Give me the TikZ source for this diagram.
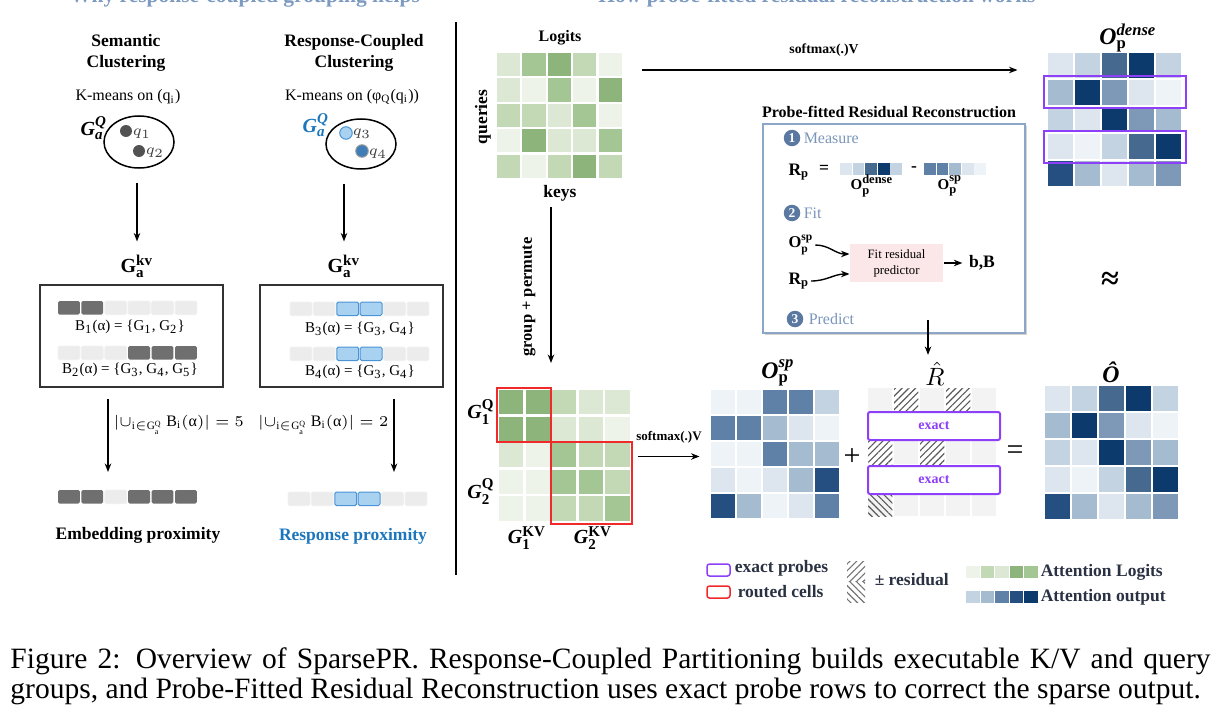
\documentclass[tikz,border=0pt]{standalone}
\usepackage{amsmath}
\usepackage{fontspec}
\setmainfont{Liberation Serif}
\usetikzlibrary{arrows.meta,shapes.geometric,patterns.meta,shadows}

% heat map shades
\definecolor{gA}{HTML}{EEF3EA}
\definecolor{gB}{HTML}{DCE8D4}
\definecolor{gC}{HTML}{C3D9B6}
\definecolor{gD}{HTML}{A4C694}
\definecolor{gE}{HTML}{8DB47A}
\definecolor{bA}{HTML}{EEF3F8}
\definecolor{bB}{HTML}{DDE5EF}
\definecolor{bC}{HTML}{C4D3E1}
\definecolor{bD}{HTML}{A5BBD0}
\definecolor{bE}{HTML}{7D99B7}
\definecolor{bF}{HTML}{5F81A7}
\definecolor{bG}{HTML}{46698F}
\definecolor{bH}{HTML}{244F80}
\definecolor{bI}{HTML}{0D3A6D}
% other colours
\definecolor{cellgray}{HTML}{6F6F6F}
\definecolor{cellpale}{HTML}{ECECEC}
\definecolor{cellblue}{HTML}{A9D1F0}
\definecolor{edgeblue}{HTML}{4A93D6}
\definecolor{respblue}{HTML}{1B76BC}
\definecolor{probepurple}{HTML}{8E3FF8}
\definecolor{routedred}{HTML}{F02A2A}
\definecolor{stepblue}{HTML}{7A96BA}
\definecolor{stepdark}{HTML}{5A78A0}
\definecolor{frameblue}{HTML}{8CA6C8}
\definecolor{fitpink}{HTML}{FBE7E7}
\definecolor{legendink}{HTML}{2A3142}
\definecolor{headblue}{HTML}{7D9AC0}
\definecolor{rescell}{HTML}{F3F3F3}

\newcommand{\bfit}[1]{\text{\bfseries\itshape #1}}

\begin{document}
\begin{tikzpicture}[x=0.4pt,y=-0.4pt,>=Stealth,
  arr/.style={->,line width=0.55pt,>={Stealth[length=3.4pt,width=2.6pt]}},
  ttl/.style={font=\bfseries\fontsize{7}{8.4}\selectfont,align=center,inner sep=0.5pt},
  txt/.style={font=\fontsize{6.4}{7.5}\selectfont,inner sep=0.5pt},
  lbl/.style={font=\fontsize{8}{9}\selectfont,inner sep=0.5pt},
  small/.style={font=\bfseries\fontsize{5.5}{6.5}\selectfont,inner sep=0.5pt},
  big/.style={font=\fontsize{12}{12}\selectfont,inner sep=0.5pt},
  steptxt/.style={font=\fontsize{6.4}{7.5}\selectfont,text=stepblue,anchor=west,inner sep=0.5pt},
  stepnum/.style={circle,fill=stepdark,text=white,inner sep=0pt,minimum size=6.6pt,font=\bfseries\fontsize{5.4}{5.4}\selectfont},
  legend/.style={font=\bfseries\fontsize{7}{8}\selectfont,text=legendink,anchor=west,inner sep=0.5pt},
  frame/.style={draw=black!80,line width=0.6pt,minimum width=73.2pt,minimum height=40.8pt},
  probe/.style={draw=probepurple,line width=0.75pt},
  routed/.style={draw=routedred,line width=0.75pt},
  dkcell/.style={fill=cellgray},
  ltcell/.style={fill=cellpale,draw=black!6},
  bucell/.style={fill=cellblue,draw=edgeblue},
  hatch/.style={pattern={Lines[angle=#1,distance=1.9pt,line width=0.45pt]},pattern color=black!65},
  exact/.style={draw=probepurple,line width=0.8pt,fill=white,rounded corners=0.8pt,
    minimum width=52.8pt,minimum height=11.2pt,inner sep=0pt,text=probepurple,
    font=\bfseries\fontsize{5.6}{6}\selectfont},
  mat/.style={inner sep=0pt,minimum width=#1,minimum height=#1}
]
\useasboundingbox (0,0) rectangle (1219,726);

% panel headings, cut at the top edge
\node[font=\bfseries\fontsize{8.6}{10}\selectfont,text=headblue,anchor=base] (headL) at (245,3) {Why response-coupled grouping helps};
\node[font=\bfseries\fontsize{8.6}{10}\selectfont,text=headblue,anchor=base] (headR) at (817,3) {How probe-fitted residual reconstruction works};
\draw[line width=0.6pt] (456,22) -- (456,575);

% ---------- left panel ----------
\node[ttl] (semT) at (126,53) {Semantic\\Clustering};
\node[ttl] (rcT) at (354,53) {Response-Coupled\\Clustering};
\node[txt] (semK) at (128,97) {K-means on (q\textsubscript{i})};
\node[txt] (rcK) at (352,97) {K-means on (φ\textsubscript{Q}(q\textsubscript{i}))};

\node[draw,ellipse,line width=0.6pt,minimum width=28pt,minimum height=20.8pt] (semQ) at (139,142) {};
\node[draw,ellipse,line width=0.6pt,minimum width=28pt,minimum height=20pt] (rcQ) at (361,144) {};
\node[lbl] (semG) at (94,128) {$\bfit{G}_{\bfit{a}}^{\bfit{Q}}$};
\node[lbl,text=respblue] (rcG) at (316,125) {$\bfit{G}_{\bfit{a}}^{\bfit{Q}}$};
% query points
\fill[black!68] (126,131) circle (2.4pt);
\fill[black!68] (139,151) circle (2.4pt);
\filldraw[fill=cellblue,draw=edgeblue,line width=0.4pt] (346,133) circle (2.5pt);
\filldraw[fill=edgeblue!85!black,draw=black!40,line width=0.4pt] (362,151) circle (2.5pt);
\node[txt,anchor=west,text=black!75] (q1) at (131,134) {$q_1$};
\node[txt,anchor=west,text=black!75] (q2) at (144,153) {$q_2$};
\node[txt,anchor=west,text=black!75] (q3) at (351,134) {$q_3$};
\node[txt,anchor=west,text=black!75] (q4) at (367,154) {$q_4$};

\node[lbl] (gkvL) at (137,266) {$\mathbf{G}_{\mathbf{a}}^{\mathbf{kv}}$};
\node[lbl] (gkvR) at (344,266) {$\mathbf{G}_{\mathbf{a}}^{\mathbf{kv}}$};
\draw[arr,shorten <=5.6pt,shorten >=4.6pt] (gkvL.north |- semQ.south) -- (gkvL.north);
\draw[arr,shorten <=5.6pt,shorten >=4.6pt] (gkvR.north |- rcQ.south) -- (gkvR.north);

\node[frame] (bL) at (131.5,336) {};
\node[frame] (bR) at (351.5,336) {};
% block rows: bucket members and unions
\foreach \x/\y/\cols in {58/301/{dkcell,dkcell,ltcell,ltcell,ltcell,ltcell},
                         58/346/{ltcell,ltcell,ltcell,dkcell,dkcell,dkcell},
                         290/302/{ltcell,ltcell,bucell,bucell,ltcell,ltcell},
                         290/347/{ltcell,ltcell,bucell,bucell,ltcell,ltcell},
                         58/490/{dkcell,dkcell,ltcell,dkcell,dkcell,dkcell},
                         288/492/{ltcell,ltcell,bucell,bucell,ltcell,ltcell}}
  \foreach \s [count=\k] in \cols
    \path[\s,rounded corners=0.6pt,line width=0.4pt] ({\x+23.4*(\k-1)},\y) rectangle ++(21.8,13.5);
\node[txt,font=\fontsize{6}{7}\selectfont] (b1) at (130,327) {B\textsubscript{1}(α) = \{G\textsubscript{1}, G\textsubscript{2}\}};
\node[txt,font=\fontsize{6}{7}\selectfont] (b2) at (130,370) {B\textsubscript{2}(α) = \{G\textsubscript{3}, G\textsubscript{4}, G\textsubscript{5}\}};
\node[txt,font=\fontsize{6}{7}\selectfont] (b3) at (360,329) {B\textsubscript{3}(α) = \{G\textsubscript{3}, G\textsubscript{4}\}};
\node[txt,font=\fontsize{6}{7}\selectfont] (b4) at (360,372) {B\textsubscript{4}(α) = \{G\textsubscript{3}, G\textsubscript{4}\}};

\node[txt,anchor=west] (sumL) at (112,425) {$|{\cup}_{\mathrm{i}\in\mathrm{G}^{\mathrm{Q}}_{\mathrm{a}}}\,\mathrm{B}_{\mathrm{i}}(\text{α})| = 5$};
\node[txt,anchor=east] (sumR) at (390,425) {$|{\cup}_{\mathrm{i}\in\mathrm{G}^{\mathrm{Q}}_{\mathrm{a}}}\,\mathrm{B}_{\mathrm{i}}(\text{α})| = 2$};
\coordinate (tipL) at (108,472);
\coordinate (tipR) at (394,472);
\draw[arr,shorten <=4.4pt] (tipL |- bL.south) -- (tipL);
\draw[arr,shorten <=4.4pt] (tipR |- bR.south) -- (tipR);

\node[ttl] (embT) at (138,535) {Embedding proximity};
\node[ttl,text=respblue] (rpT) at (353,536) {Response proximity};

% ---------- right panel ----------
\node[mat=50.4pt] (logit) at (560,116) {};
\node[mat=54pt] (dense) at (1115.5,120) {};
\node[mat=52.8pt] (grp) at (565,456.5) {};
\node[mat=51.6pt] (osp) at (775.5,454) {};

% logits
\foreach \row [count=\r] in {{gB,gD,gE,gC,gA},{gB,gA,gD,gA,gE},{gC,gC,gB,gD,gA},{gA,gE,gB,gB,gD},{gC,gA,gC,gE,gC}}
  \foreach \c [count=\k] in \row
    \fill[\c] ({497+25.4*(\k-1)},{53+25.4*(\r-1)}) rectangle ++(23.2,23.2);
\node[ttl,font=\bfseries\fontsize{6.4}{7.5}\selectfont] (logitT) at (560,38) {Logits};
\node[ttl,rotate=90] (qry) at (483,117) {queries};
\node[ttl] (keyT) at (560,193) {keys};

\coordinate (gpA) at (551,207);
\draw[arr,shorten >=10.8pt] (gpA) -- (gpA |- grp.north);
\node[ttl,rotate=90,font=\bfseries\fontsize{6.6}{7.5}\selectfont] (gpT) at (529,297) {group + permute};

\coordinate (smA) at (642,70);
\draw[arr,shorten >=12pt] (smA) -- (smA -| dense.west);
\node[small] (smT) at (824,50) {softmax(.)V};

% dense output and the reconstruction (same values)
\foreach \mx/\my in {1048/53,1045/386}
  \foreach \row [count=\r] in {{bB,bC,bG,bI,bC},{bD,bI,bE,bB,bA},{bC,bB,bI,bE,bD},{bB,bA,bC,bG,bI},{bH,bD,bB,bD,bE}}
    \foreach \c [count=\k] in \row
      \fill[\c] ({\mx+27*(\k-1)},{\my+27*(\r-1)}) rectangle ++(25,25);
\node[lbl,font=\fontsize{9.5}{10}\selectfont] (denseT) at (1128,38) {$\bfit{O}_{\mathbf{p}}^{\bfit{dense}}$};
\draw[probe] (1044,76) rectangle (1186,108);
\draw[probe] (1044,131) rectangle (1186,163);
\node[big,font=\bfseries\fontsize{13}{13}\selectfont] (aprx) at (1110,281) {≈};

% probe-fitted residual reconstruction
\node[ttl,font=\bfseries\fontsize{6.4}{7.5}\selectfont] (probeT) at (889,112) {Probe-fitted Residual Reconstruction};
\node[draw=frameblue,fill=white,line width=0.6pt,minimum width=104.8pt,minimum height=83.6pt,
      drop shadow={shadow xshift=0.8pt,shadow yshift=-0.8pt,opacity=0.35}] (probe) at (894,228.5) {};
\node[stepnum] (n1) at (792,138) {1};
\node[steptxt] (s1) at (802,138) {Measure};
\node[stepnum] (n2) at (792,213) {2};
\node[steptxt] (s2) at (802,213) {Fit};
\node[stepnum] (n3) at (795,319) {3};
\node[steptxt] (s3) at (807,319) {Predict};

\node[font=\bfseries\fontsize{7}{8}\selectfont,inner sep=0.5pt] (rp1) at (799,172) {R\textsubscript{p}};
\node[font=\bfseries\fontsize{7}{8}\selectfont,inner sep=0.5pt] (eq1) at (824,169) {=};
\node[font=\bfseries\fontsize{7}{8}\selectfont,inner sep=0.5pt] (minus) at (914,169) {-};
\foreach \mx/\cols in {840/{bB,bC,bG,bI,bC},924/{bF,bF,bD,bB,bA}}
  \foreach \c [count=\k] in \cols
    \fill[\c] ({\mx+12.6*(\k-1)},163) rectangle ++(11.8,12);
\node[font=\fontsize{6}{7}\selectfont,inner sep=0.5pt] (dlab) at (872,186) {$\mathbf{O}_{\mathbf{p}}^{\mathbf{dense}}$};
\node[font=\fontsize{6}{7}\selectfont,inner sep=0.5pt] (slab) at (950,186) {$\mathbf{O}_{\mathbf{p}}^{\mathbf{sp}}$};

\node[font=\fontsize{6.6}{7}\selectfont,inner sep=0.5pt] (ofit) at (801,245) {$\mathbf{O}_{\mathbf{p}}^{\mathbf{sp}}$};
\node[font=\bfseries\fontsize{7}{8}\selectfont,inner sep=0.5pt] (rfit) at (799,281) {R\textsubscript{p}};
\node[fill=fitpink,minimum width=37.2pt,minimum height=15.2pt,inner sep=0pt,align=center,
      font=\fontsize{5.1}{6.4}\selectfont] (fitbox) at (896.5,263) {Fit residual\\predictor};
\node[font=\bfseries\fontsize{7}{8}\selectfont,inner sep=0.5pt] (bB) at (982,263) {b,B};
\draw[arr] (ofit.east) to[out=0,in=180] ([yshift=3.6pt]fitbox.west);
\draw[arr] (rfit.east) to[out=0,in=180] ([yshift=-4.4pt]fitbox.west);
\draw[arr,shorten >=2pt] (fitbox.east) -- (bB.west);

\node[font=\fontsize{10}{10}\selectfont,inner sep=0.5pt] (rhatT) at (935,374) {$\hat{R}$};
\coordinate (prA) at (928,320);
\draw[arr,shorten >=2.2pt] (prA) -- (prA |- rhatT.north);

% grouped logits
\foreach \row [count=\r] in {{gE,gE,gC,gB,gB},{gE,gE,gB,gB,gA},{gB,gA,gD,gC,gC},{gA,gA,gD,gD,gC},{gA,gA,gC,gC,gD}}
  \foreach \c [count=\k] in \row
    \fill[\c] ({499+26.6*(\k-1)},{390+26.6*(\r-1)}) rectangle ++(24.2,24.2);
\draw[routed] (497,388) rectangle (551,442);
\draw[routed] (551,442) rectangle (632,524);
\node[lbl] (g1q) at (481,412) {$\bfit{G}_{\mathbf{1}}^{\mathbf{Q}}$};
\node[lbl] (g2q) at (481,492) {$\bfit{G}_{\mathbf{2}}^{\mathbf{Q}}$};
\node[lbl] (g1kv) at (527,538) {$\bfit{G}_{\mathbf{1}}^{\mathbf{KV}}$};
\node[lbl] (g2kv) at (593,538) {$\bfit{G}_{\mathbf{2}}^{\mathbf{KV}}$};

\draw[arr,shorten <=2.4pt,shorten >=4.4pt] (grp.east) -- (grp.east -| osp.west);
\node[small,font=\bfseries\fontsize{5.2}{6}\selectfont] (smT2) at (669,437) {softmax(.)V};

% sparse output
\foreach \row [count=\r] in {{bA,bA,bF,bF,bC},{bF,bF,bD,bB,bA},{bA,bA,bF,bD,bD},{bB,bA,bB,bD,bH},{bH,bD,bA,bB,bF}}
  \foreach \c [count=\k] in \row
    \fill[\c] ({711+26*(\k-1)},{390+26*(\r-1)}) rectangle ++(24,24);
\node[lbl,font=\fontsize{9.5}{10}\selectfont] (ospT) at (778,373) {$\bfit{O}_{\mathbf{p}}^{\bfit{sp}}$};
\node[big] (plus) at (852,457) {+};

% predicted residual
\foreach \r in {1,...,5}
  \foreach \k in {1,...,5}
    \fill[rescell] ({868+26*(\k-1)},{388+26*(\r-1)}) rectangle ++(24.4,24.4);
\foreach \k/\r in {2/1,4/1,1/3,3/3}
  \fill[white] ({868+26*(\k-1)},{388+26*(\r-1)}) rectangle ++(24.4,24.4);
\foreach \k/\r in {2/1,4/1,1/3,3/3}
  \fill[hatch=45] ({868+26*(\k-1)},{388+26*(\r-1)}) rectangle ++(24.4,24.4);
\fill[hatch=-45] (868,492) rectangle ++(24.4,24.4);
\node[exact] (ex1) at (934,426) {exact};
\node[exact] (ex2) at (934,480) {exact};

\node[big] (eqs) at (1015,453) {=};
\node[font=\bfseries\itshape\fontsize{9.5}{10}\selectfont,inner sep=0.5pt] (ohatT) at (1111,372) {Ô};

% legend
\draw[probe,line width=0.6pt,rounded corners=1pt] (707,564) rectangle (730,576);
\node[legend] (lgP) at (733,568) {exact probes};
\draw[routed,line width=0.6pt,rounded corners=1pt] (707,586) rectangle (730,598);
\node[legend] (lgR) at (736,592) {routed cells};
\fill[pattern={Lines[angle=45,distance=1.9pt,line width=0.45pt]},pattern color=black!55] (847,561) rectangle (865,581);
\fill[pattern={Lines[angle=-45,distance=1.9pt,line width=0.45pt]},pattern color=black!55] (847,581) rectangle (865,602);
\node[legend] (lgH) at (873,580) {± residual};
\foreach \my/\cols in {566/{gA,gC,gB,gE,gD},591/{bC,bD,bF,bH,bI}}
  \foreach \c [count=\k] in \cols
    \fill[\c] ({966+14.5*(\k-1)},\my) rectangle ++(13.7,11.5);
\node[legend] (lgL) at (1039,572) {Attention Logits};
\node[legend] (lgO) at (1039,597) {Attention output};

% caption
\node[inner sep=0pt,anchor=base west,font=\fontsize{11.8}{13}\selectfont] (cap1) at (10,668)
  {\makebox[480pt][s]{Figure 2: Overview of SparsePR. Response-Coupled Partitioning builds executable K/V and query}};
\node[inner sep=0pt,anchor=base west,font=\fontsize{11.8}{13}\selectfont] (cap2) at (10,698)
  {groups, and Probe-Fitted Residual Reconstruction uses exact probe rows to correct the sparse output.};
\end{tikzpicture}
\end{document}
